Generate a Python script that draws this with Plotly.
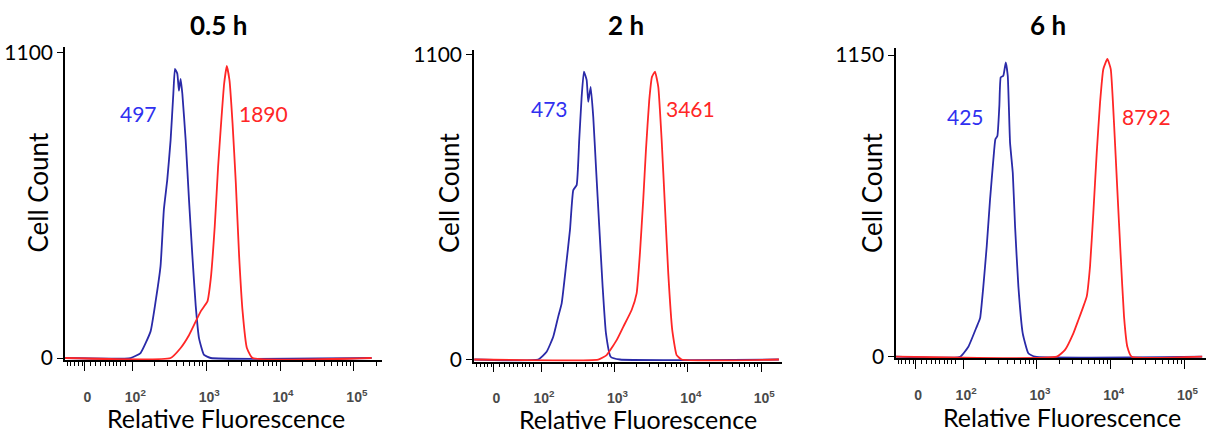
import math
import plotly.graph_objects as go

# Flow cytometry histograms: x = log10 of relative fluorescence (display decades),
# y = cell count. Blue = control, red = treated.
TIMES = ["0.5 h", "2 h", "6 h"]
Y_MAX = [1100, 1100, 1150]
X_TICK_VALS = [1.35, 2, 3, 4, 5]
X_TICK_TEXT = ["<b>0</b>", "<b>10<sup>2</sup></b>", "<b>10<sup>3</sup></b>",
               "<b>10<sup>4</sup></b>", "<b>10<sup>5</sup></b>"]

blue_x_05 = [1.09, 1.975, 2.111, 2.247, 2.315, 2.382, 2.427, 2.473, 2.518, 2.555, 2.577,
             2.609, 2.631, 2.654, 2.677, 2.722, 2.767, 2.813, 2.858, 2.903, 2.971, 3.062, 5.24]
blue_y_05 = [0, 0, 18, 96, 204, 332, 536, 643, 786, 953, 1043,
             1025, 964, 1007, 953, 786, 571, 368, 189, 71, 11, 0, 0]
red_x_05 = [1.09, 2.518, 2.654, 2.767, 2.926, 3.017, 3.062, 3.116, 3.161, 3.198, 3.243,
            3.279, 3.316, 3.357, 3.401, 3.446, 3.493, 3.551, 3.628, 5.24]
red_y_05 = [0, 0, 36, 82, 168, 204, 286, 475, 689, 832, 989,
            1053, 1000, 846, 632, 368, 168, 36, 0, 0]

blue_x_2 = [1.09, 1.962, 2.076, 2.166, 2.234, 2.281, 2.339, 2.394, 2.439, 2.485, 2.520, 2.553,
            2.584, 2.621, 2.643, 2.676, 2.711, 2.748, 2.793, 2.839, 2.884, 2.948, 3.075, 5.24]
blue_y_2 = [0, 0, 28, 82, 155, 203, 335, 468, 612, 630, 793, 949,
            1040, 1010, 931, 985, 877, 696, 480, 263, 95, 10, 0, 0]
red_x_2 = [1.09, 2.779, 2.894, 3.030, 3.120, 3.234, 3.302, 3.347, 3.392, 3.429, 3.474,
           3.511, 3.552, 3.597, 3.643, 3.688, 3.733, 3.787, 3.847, 3.916, 5.24]
red_y_2 = [0, 0, 16, 70, 118, 179, 239, 384, 576, 757, 937,
           1021, 1040, 985, 793, 552, 311, 107, 16, 0, 0]

blue_x_6 = [1.09, 1.959, 2.071, 2.185, 2.230, 2.274, 2.320, 2.365, 2.410, 2.437, 2.464, 2.491,
            2.510, 2.545, 2.578, 2.605, 2.636, 2.673, 2.704, 2.749, 2.808, 2.884, 2.975, 5.24]
blue_y_6 = [0, 0, 38, 115, 147, 268, 421, 599, 752, 829, 841, 956,
            1065, 1071, 1122, 1071, 816, 701, 497, 268, 89, 13, 0, 0]
red_x_6 = [1.09, 3.269, 3.381, 3.494, 3.562, 3.629, 3.675, 3.720, 3.765, 3.811, 3.856,
           3.900, 3.955, 4.001, 4.045, 4.090, 4.136, 4.181, 4.226, 4.285, 5.24]
red_y_6 = [0, 0, 26, 89, 140, 191, 229, 344, 548, 778, 969,
           1096, 1135, 1096, 892, 637, 382, 153, 38, 0, 0]

blue_mfi = [497, 473, 425]
red_mfi = [1890, 3461, 8792]

BLUE_LINE = "#2a2aa8"
BLUE_TEXT = "#3030f0"
RED = "#ff2626"
FONT = "Lato, Carlito, Calibri, sans-serif"

series = [
    (blue_x_05, blue_y_05, red_x_05, red_y_05),
    (blue_x_2, blue_y_2, red_x_2, red_y_2),
    (blue_x_6, blue_y_6, red_x_6, red_y_6),
]

# panel geometry (paper fractions) and axis ranges
x_domains = [[0.0539, 0.3167], [0.3930, 0.6484], [0.7430, 1.0]]
y_domains = [[0.1705, 0.8917], [0.1666, 0.8848], [0.1744, 0.8894]]
x_ranges = [[1.088, 5.380], [1.086, 5.282], [1.091, 5.292]]
y_ranges = [[-7.2, 1121.6], [-7.9, 1118], [-6.1, 1176.7]]

# label spots in data coords: (blue x, red x, y)
label_pos = [(2.083, 3.776, 880), (2.121, 4.042, 905), (2.033, 4.479, 916)]
title_x = [218, 626, 1048]
ytitle_x = [37.5, 449, 872]
xtitle_pos = [(226, 418), (637.5, 419), (1061.7, 417)]

# ticks below 10^2 (linear part of the display) + log minor ticks
low_minor = [1.119, 1.169, 1.223, 1.268, 1.322, 1.440, 1.503, 1.575, 1.630,
             1.684, 1.742, 1.788, 1.846, 1.901]
log_minor = [k + math.log10(m) for k in (2, 3, 4) for m in range(2, 10)] + [5 + math.log10(2)]
minor_vals = low_minor + log_minor

W, H = 1206, 434

fig = go.Figure()
annotations = []
layout = dict(
    width=W, height=H,
    margin=dict(l=0, r=0, t=0, b=0, autoexpand=False),
    plot_bgcolor="white", paper_bgcolor="white",
    showlegend=False,
)


def paper_text(px, py, text, size, angle=0, color="black"):
    return dict(x=px / W, y=1 - py / H, xref="paper", yref="paper",
                xanchor="center", yanchor="middle", text=text, textangle=angle,
                showarrow=False, font=dict(family=FONT, size=size, color=color))


for i in range(3):
    sfx = "" if i == 0 else str(i + 1)
    bx, by, rx, ry = series[i]
    fig.add_trace(go.Scatter(x=bx, y=by, mode="lines",
                             line=dict(color=BLUE_LINE, width=1.8, shape="spline", smoothing=0.4),
                             xaxis="x" + sfx, yaxis="y" + sfx))
    fig.add_trace(go.Scatter(x=rx, y=ry, mode="lines",
                             line=dict(color=RED, width=1.8, shape="spline", smoothing=0.4),
                             xaxis="x" + sfx, yaxis="y" + sfx))

    layout["xaxis" + sfx] = dict(
        domain=x_domains[i], range=x_ranges[i], anchor="y" + sfx, automargin=False,
        showline=True, linecolor="black", linewidth=1.5,
        showgrid=False, zeroline=False,
        tickmode="array", tickvals=X_TICK_VALS, ticktext=X_TICK_TEXT,
        ticks="outside", ticklen=9, tickwidth=1.2, tickcolor="black",
        ticklabelstandoff=14, ticklabelshift=3,
        tickfont=dict(family="Liberation Sans, Arial, sans-serif", size=14, color="#4a4a4a"),
        minor=dict(tickmode="array", tickvals=minor_vals, ticks="outside",
                   ticklen=4, tickwidth=1, tickcolor="black"),
    )
    layout["yaxis" + sfx] = dict(
        domain=y_domains[i], range=y_ranges[i], anchor="x" + sfx, automargin=False,
        showline=True, linecolor="black", linewidth=1.5,
        showgrid=False, zeroline=False,
        tickmode="array", tickvals=[0, Y_MAX[i]],
        ticks="outside", ticklen=6, tickwidth=1.2, tickcolor="black",
        tickfont=dict(family=FONT, size=21, color="black"),
    )

    bxl, rxl, yl = label_pos[i]
    annotations.append(dict(x=bxl, y=yl, xref="x" + sfx, yref="y" + sfx, text=str(blue_mfi[i]),
                            xanchor="center", yanchor="middle", showarrow=False,
                            font=dict(family=FONT, size=21, color=BLUE_TEXT)))
    annotations.append(dict(x=rxl, y=yl, xref="x" + sfx, yref="y" + sfx, text=str(red_mfi[i]),
                            xanchor="center", yanchor="middle", showarrow=False,
                            font=dict(family=FONT, size=21, color=RED)))
    annotations.append(paper_text(title_x[i], 25, "<b>" + TIMES[i] + "</b>", 26))
    annotations.append(paper_text(ytitle_x[i], 193, "Cell Count", 26, angle=-90))
    annotations.append(paper_text(xtitle_pos[i][0], xtitle_pos[i][1], "Relative Fluorescence", 25))

layout["annotations"] = annotations
fig.update_layout(**layout)
# drop the browser's default body margin so the figure sits at the page origin
fig.write_html("out.html", config={"displayModeBar": False},
               post_script="document.body.style.margin='0';")
